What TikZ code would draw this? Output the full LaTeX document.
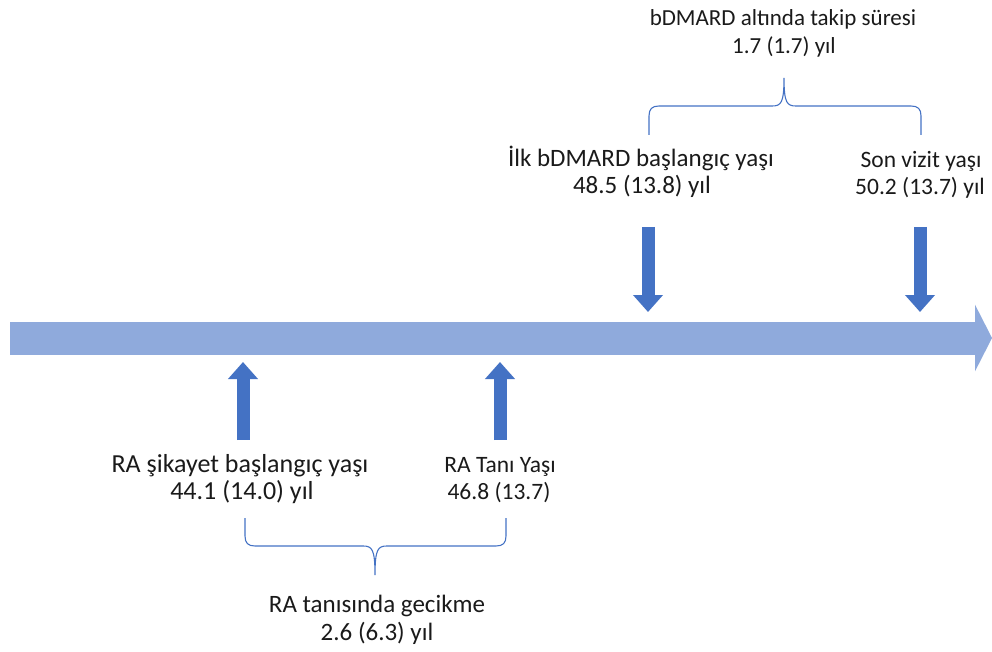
\documentclass[tikz,border=0pt]{standalone}
\usepackage{fontspec}
\setmainfont{Carlito}
\usetikzlibrary{arrows.meta}
\definecolor{shaftblue}{HTML}{8FAADC}
\definecolor{markblue}{HTML}{4472C4}
\definecolor{txt}{HTML}{1A1A1A}
\begin{document}
\begin{tikzpicture}[x=1pt,y=-1pt,
  timeline/.style={draw=shaftblue, line width=33pt, -{Triangle[length=17pt,width=66pt]}},
  marker/.style={draw=markblue, line width=13pt, -{Triangle[length=17pt,width=29pt]}},
  bracepath/.style={draw=markblue, line width=1.1pt},
  lbl/.style={anchor=base, text=txt, inner sep=0pt},
  big/.style={lbl, font=\fontsize{25}{30}\selectfont},
  bigger/.style={lbl, font=\fontsize{26}{30}\selectfont},
  mid/.style={lbl, font=\fontsize{23.5}{28}\selectfont},
  small/.style={lbl, font=\fontsize{23}{28}\selectfont}]
\useasboundingbox (0,0) rectangle (992,652);

% main timeline
\coordinate (tlS) at (10,338);
\coordinate (tlE) at (992,338);
\draw[timeline] (tlS) -- (tlE);

% markers
\coordinate (m1a) at (243,440); \coordinate (m1b) at (243,362);
\coordinate (m2a) at (500,440); \coordinate (m2b) at (500,362);
\coordinate (m3a) at (648,227); \coordinate (m3b) at (648,312);
\coordinate (m4a) at (920,227); \coordinate (m4b) at (920,312);
\draw[marker] (m1a) -- (m1b);
\draw[marker] (m2a) -- (m2b);
\draw[marker] (m3a) -- (m3b);
\draw[marker] (m4a) -- (m4b);

% labels
\node[big] (ilk1) at (641,167) {İlk bDMARD başlangıç yaşı};
\node[big] (ilk2) at (642,194) {48.5 (13.8) yıl};
\node[mid] (son1) at (921,168) {Son vizit yaşı};
\node[mid] (son2) at (920,195) {50.2 (13.7) yıl};
\node[small] (tak1) at (783,26) {bDMARD altında takip süresi};
\node[small] (tak2) at (784,54) {1.7 (1.7) yıl};
\node[bigger] (sik1) at (240,472) {RA şikayet başlangıç yaşı};
\node[bigger] (sik2) at (242,499) {44.1 (14.0) yıl};
\node[mid] (tan1) at (500,472) {RA Tanı Yaşı};
\node[mid] (tan2) at (499,499) {46.8 (13.7)};
\node[big] (gec1) at (377,612) {RA tanısında gecikme};
\node[big] (gec2) at (377,640) {2.6 (6.3) yıl};

% top brace
\coordinate (tbL) at (649,135);
\coordinate (tbR) at (921,135);
\coordinate (tbM) at (784,78);
\draw[bracepath] (tbL) -- (649,116) .. controls (649,109) and (652,106) .. (659,106)
  -- (772,106) .. controls (781,106) and (784,103) .. (tbM)
  .. controls (784,103) and (787,106) .. (796,106)
  -- (911,106) .. controls (918,106) and (921,109) .. (921,116) -- (tbR);

% bottom brace
\coordinate (bbL) at (245,518);
\coordinate (bbR) at (506,518);
\coordinate (bbM) at (375,575);
\draw[bracepath] (bbL) -- (245,536) .. controls (245,543) and (248,546) .. (255,546)
  -- (363,546) .. controls (372,546) and (375,549) .. (bbM)
  .. controls (375,549) and (378,546) .. (387,546)
  -- (496,546) .. controls (503,546) and (506,543) .. (506,536) -- (bbR);
\end{tikzpicture}
\end{document}
